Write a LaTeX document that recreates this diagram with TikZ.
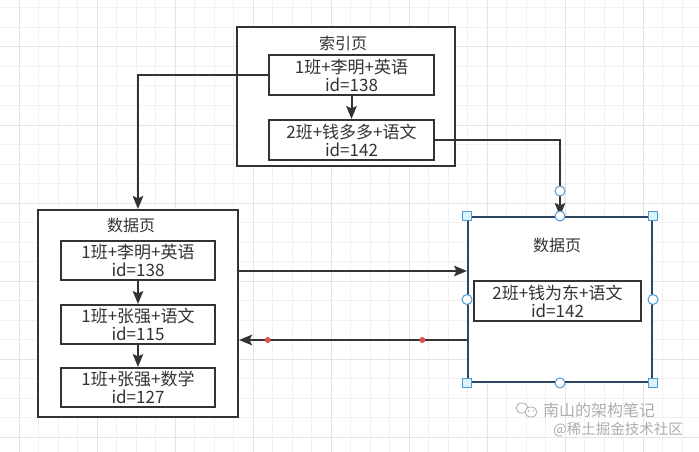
\documentclass[tikz,border=0pt]{standalone}
\usepackage{fontspec}
\setmainfont{Noto Sans CJK SC}
\usetikzlibrary{arrows.meta,calc}
\definecolor{ink}{HTML}{333333}
\definecolor{gminor}{HTML}{F1F1F1}
\definecolor{gmajor}{HTML}{E4E4E4}
\definecolor{selborder}{RGB}{45,70,100}
\definecolor{handle}{HTML}{4A9BD9}
\definecolor{handlefill}{HTML}{DDF1FB}
\definecolor{reddot}{HTML}{D9534F}
\definecolor{wm}{HTML}{ADADAD}
\tikzset{
  page/.style={draw=ink, line width=2pt, fill=white, inner sep=0pt},
  rec/.style={draw=ink, line width=2pt, fill=white, inner sep=0pt, align=center,
    font=\fontsize{17}{18}\selectfont, text=ink},
  ttl/.style={font=\fontsize{16}{18}\selectfont, text=ink, inner sep=0pt},
  conn/.style={draw=ink, line width=2pt, -{Stealth[length=13pt,width=10.5pt,inset=2.5pt]}},
  sq/.style={draw=handle, fill=handlefill, line width=1pt, minimum size=9pt, inner sep=0pt},
  ci/.style={draw=handle, fill=white, line width=1pt, circle, minimum size=10pt, inner sep=0pt},
  rdot/.style={fill=reddot, circle, minimum size=6pt, inner sep=0pt},
  wmtext/.style={text=wm, inner sep=0pt}
}
\begin{document}
\begin{tikzpicture}[x=1pt,y=-1pt]
\useasboundingbox (0,0) rectangle (699,452);
\fill[white] (0,0) rectangle (699,452);
% grid
\foreach \k in {-1,...,35} {
  \pgfmathtruncatemacro{\m}{mod(\k+4,4)}
  \ifnum\m=0 \draw[gmajor, line width=1pt] ({19+19.5*\k},0) -- ({19+19.5*\k},452);
  \else \draw[gminor, line width=1pt] ({19+19.5*\k},0) -- ({19+19.5*\k},452); \fi
}
\foreach \k in {0,...,23} {
  \pgfmathtruncatemacro{\m}{mod(\k+2,4)}
  \ifnum\m=0 \draw[gmajor, line width=1pt] (0,{8+19.5*\k}) -- (699,{8+19.5*\k});
  \else \draw[gminor, line width=1pt] (0,{8+19.5*\k}) -- (699,{8+19.5*\k}); \fi
}

% index page
\node[page, minimum width=218pt, minimum height=139pt] (ip) at (346,96.5) {};
\node[ttl] (ipt) at (343,43) {索引页};
\node[rec, minimum width=165pt, minimum height=40pt] (ib1) at (351.5,75) {1班+李明+英语\\id=138};
\node[rec, minimum width=165pt, minimum height=40pt] (ib2) at (351.5,140) {2班+钱多多+语文\\id=142};
\draw[conn] (ib1) -- (ib2);

% left data page
\node[page, minimum width=200pt, minimum height=207pt] (lp) at (138,313.5) {};
\node[ttl] (lpt) at (131,225) {数据页};
\node[rec, minimum width=154pt, minimum height=39pt] (lb1) at (138,260.5) {1班+李明+英语\\id=138};
\node[rec, minimum width=154pt, minimum height=39pt] (lb2) at (138,324.5) {1班+张强+语文\\id=115};
\node[rec, minimum width=154pt, minimum height=39pt] (lb3) at (138,387.5) {1班+张强+数学\\id=127};
\draw[conn] (lb1) -- (lb2);
\draw[conn] (lb2) -- (lb3);

% right data page (selected)
\node[page, draw=selborder, minimum width=184pt, minimum height=165pt] (rp) at (560,299.5) {};
\node[ttl] (rpt) at (557,245) {数据页};
\node[rec, minimum width=167pt, minimum height=40pt] (rb1) at (557.5,301) {2班+钱为东+语文\\id=142};

% connectors
\draw[conn] (ib1.west) -| (lp.north);
\draw[conn] (ib2.east) -| (rp.north);
\draw[conn] ([yshift=42.5pt]lp.east) -- ([yshift=42.5pt]lp.east -| rp.west);
\draw[conn] ([yshift=-26.5pt]lp.east -| rp.west) -- ([yshift=-26.5pt]lp.east)
  node[rdot, pos=0.196] (d1) {} node[rdot, pos=0.874] (d2) {};

% selection handles
\foreach \a in {north west, north east, south west, south east} \node[sq] at (rp.\a) {};
\foreach \a in {north, south, east, west} \node[ci] at (rp.\a) {};
\node[ci] (hc) at ([yshift=25pt]rp.north) {};

% watermark
\node[wmtext, font=\fontsize{16}{18}\selectfont, anchor=west] (wm1) at (543,410) {南山的架构笔记};
\node[wmtext, font=\fontsize{14.5}{16}\selectfont, anchor=west] (wm2) at (553,430) {@稀土掘金技术社区};
\begin{scope}[draw=wm, line width=0.8pt]
  \draw (522,408) ellipse (6pt and 5pt);
  \draw[fill=white] (531,412) ellipse (6pt and 5pt);
  \fill[wm] (528.5,411) circle (0.8pt) (533.5,411) circle (0.8pt);
\end{scope}
\end{tikzpicture}
\end{document}
